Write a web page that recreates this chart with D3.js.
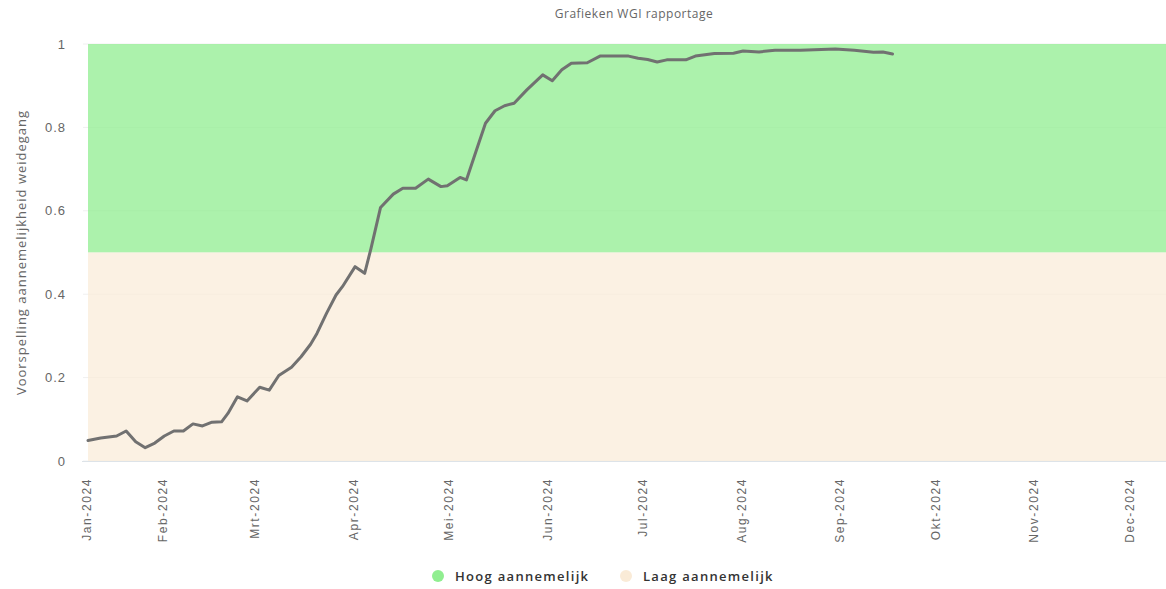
<!DOCTYPE html>
<html>
<head>
<meta charset="utf-8">
<script src="https://cdn.jsdelivr.net/npm/d3@7"></script>
<style>
  body { margin: 0; background: #fff; }
  svg { font-family: "Open Sans", sans-serif; }
</style>
</head>
<body>
<div id="chart"></div>
<script>
// Data
const dates = [
  "2024-01-08","2024-01-12","2024-01-17","2024-01-20","2024-01-23","2024-01-26","2024-01-29",
  "2024-02-01","2024-02-04","2024-02-07","2024-02-10","2024-02-13","2024-02-16","2024-02-19",
  "2024-02-21","2024-02-24","2024-02-27","2024-03-02","2024-03-05","2024-03-08","2024-03-12",
  "2024-03-15","2024-03-18","2024-03-20","2024-03-23","2024-03-26","2024-03-28","2024-04-01",
  "2024-04-04","2024-04-06","2024-04-09","2024-04-13","2024-04-16","2024-04-20","2024-04-24",
  "2024-04-28","2024-04-30","2024-05-04","2024-05-06","2024-05-09","2024-05-12","2024-05-15",
  "2024-05-18","2024-05-21","2024-05-25","2024-05-30","2024-06-02","2024-06-05","2024-06-08",
  "2024-06-13","2024-06-17","2024-06-26","2024-06-29","2024-07-02","2024-07-05","2024-07-08",
  "2024-07-14","2024-07-17","2024-07-23","2024-07-29","2024-08-01","2024-08-06","2024-08-11",
  "2024-08-19","2024-08-30","2024-09-05","2024-09-11","2024-09-14","2024-09-17"
];
const values = [
  0.049,0.055,0.060,0.072,0.046,0.032,0.043,
  0.060,0.072,0.072,0.089,0.084,0.093,0.094,
  0.114,0.154,0.144,0.177,0.170,0.205,0.225,
  0.250,0.280,0.306,0.354,0.398,0.418,0.466,
  0.450,0.510,0.608,0.640,0.654,0.654,0.676,
  0.658,0.660,0.680,0.674,0.742,0.810,0.840,
  0.852,0.858,0.890,0.926,0.912,0.938,0.954,
  0.955,0.971,0.971,0.966,0.963,0.957,0.962,
  0.962,0.971,0.977,0.978,0.983,0.981,0.985,
  0.985,0.988,0.985,0.980,0.981,0.976
];
const xDomain = ["2024-01-08", "2024-12-12"];
const monthNames = ["Jan","Feb","Mrt","Apr","Mei","Jun","Jul","Aug","Sep","Okt","Nov","Dec"];
const yTicks = [0, 0.2, 0.4, 0.6, 0.8, 1];
const bands = [
  { name: "Hoog aannemelijk", from: 0.5, to: 1, color: "#90ee90" },
  { name: "Laag aannemelijk", from: 0, to: 0.5, color: "#faebd7" }
];

const parse = d3.timeParse("%Y-%m-%d");
const series = dates.map((d, i) => ({ date: parse(d), value: values[i] }));

const W = 1166, H = 589;
const margin = { top: 44, right: 0, bottom: 128, left: 88 };
const width = W - margin.left - margin.right,
      height = H - margin.top - margin.bottom;

const svg = d3.select("#chart").append("svg")
  .attr("width", W).attr("height", H);

const g = svg.append("g")
  .attr("transform", `translate(${margin.left},${margin.top})`);

const x = d3.scaleTime()
  .domain(xDomain.map(parse))
  .range([0, width]);

const y = d3.scaleLinear()
  .domain([0, 1])
  .range([height, 0]);

// Gridlines
g.selectAll("line.grid")
  .data(yTicks)
  .enter().append("line")
  .attr("class", "grid")
  .attr("x1", -5).attr("x2", width)
  .attr("y1", d => y(d)).attr("y2", d => y(d))
  .attr("stroke", "#f0f0f0");

// Plot bands
g.selectAll("rect.band")
  .data(bands)
  .enter().append("rect")
  .attr("class", "band")
  .attr("x", 0)
  .attr("width", width)
  .attr("y", d => y(d.to))
  .attr("height", d => y(d.from) - y(d.to))
  .attr("fill", d => d.color)
  .attr("fill-opacity", d => d.from === 0 ? 0.7 : 0.75);

// X axis: first label at the axis start, then month starts
const monthTicks = [x.domain()[0]].concat(d3.timeMonth.range(d3.timeMonth.ceil(x.domain()[0]), x.domain()[1]));
const xAxis = g.append("g")
  .attr("transform", `translate(0,${height})`)
  .call(d3.axisBottom(x)
    .tickValues(monthTicks)
    .tickSize(0)
    .tickFormat(d => `${monthNames[d.getMonth()]}-${d.getFullYear()}`));

xAxis.select("path.domain").remove();
xAxis.append("line")
  .attr("x1", -6).attr("x2", width)
  .attr("y1", 0.5).attr("y2", 0.5)
  .attr("stroke", "#dde3e8");

xAxis.selectAll(".tick text")
  .attr("transform", "rotate(-90)")
  .attr("x", -17)
  .attr("y", -2)
  .attr("dy", "0.35em")
  .style("text-anchor", "end")
  .style("letter-spacing", "1.6px")
  .attr("fill", "#666")
  .style("font-size", "12px");

// Y axis
const yAxis = g.append("g")
  .call(d3.axisLeft(y)
    .tickValues(yTicks)
    .tickSize(0)
    .tickFormat(d3.format("~g")));
yAxis.select("path.domain").remove();
yAxis.selectAll("text")
  .attr("x", -22)
  .attr("fill", "#666")
  .style("letter-spacing", "1px")
  .style("font-size", "13px");

// Line
const line = d3.line()
  .x(d => x(d.date))
  .y(d => y(d.value));

g.append("path")
  .datum(series)
  .attr("fill", "none")
  .attr("stroke", "#717171")
  .attr("stroke-width", 3)
  .attr("stroke-linejoin", "round")
  .attr("stroke-linecap", "round")
  .attr("d", line);

// Titles
svg.append("text")
  .attr("x", 634).attr("y", 18)
  .attr("text-anchor", "middle")
  .attr("fill", "#666")
  .style("font-size", "12px")
  .style("letter-spacing", "0.5px")
  .text("Grafieken WGI rapportage");

svg.append("text")
  .attr("transform", `translate(26,${margin.top + height / 2}) rotate(-90)`)
  .attr("text-anchor", "middle")
  .attr("fill", "#666")
  .style("font-size", "13px")
  .style("letter-spacing", "1px")
  .text("Voorspelling aannemelijkheid weidegang");

// Legend
const legendX = [438, 626];
const legend = svg.selectAll("g.legend")
  .data(bands)
  .enter().append("g")
  .attr("class", "legend")
  .attr("transform", (d, i) => `translate(${legendX[i]},576)`);

legend.append("circle")
  .attr("r", 6)
  .attr("fill", d => d.color);

legend.append("text")
  .attr("x", 17)
  .attr("dy", "0.35em")
  .attr("fill", "#333")
  .style("font-size", "13px")
  .style("font-weight", "600")
  .style("letter-spacing", "1.3px")
  .text(d => d.name);
</script>
</body>
</html>
